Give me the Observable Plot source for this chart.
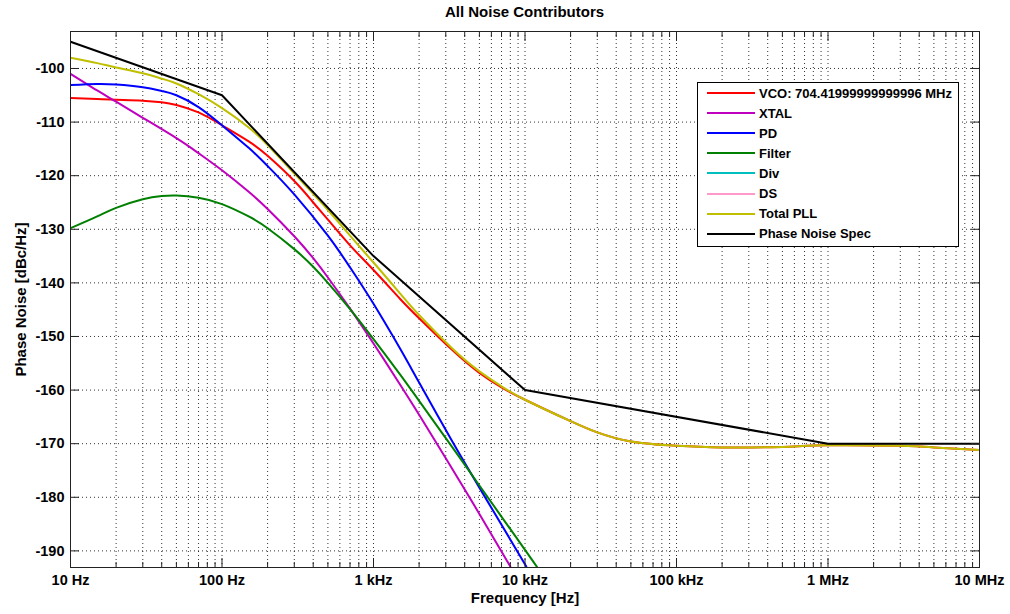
<!DOCTYPE html>
<html><head><meta charset="utf-8">
<script src="https://cdn.jsdelivr.net/npm/d3@7"></script>
<script src="https://cdn.jsdelivr.net/npm/@observablehq/plot@0.6"></script>
<style>
body{margin:0;background:#fff;font-family:"Liberation Sans",Arial,sans-serif;}
#wrap{position:relative;width:1010px;height:614px;overflow:hidden;}
#title{position:absolute;left:70px;width:909px;top:0;height:24px;line-height:24px;text-align:center;font-weight:bold;font-size:15px;color:#000;}
#chart{position:absolute;left:0;top:24px;}
#legend{position:absolute;left:697px;top:82px;width:260px;height:163px;border:1px solid #000;background:#fff;}
.row{position:absolute;left:0;height:20px;display:flex;align-items:center;font-weight:bold;font-size:13px;color:#000;white-space:nowrap;}
.row svg{margin-left:9px;margin-right:4px;}
</style></head><body>
<div id="wrap"><div id="title">All Noise Contributors</div><div id="chart"></div><div id="legend"></div></div>
<script>
// ---- tick labels ----
const xMajor = [10, 100, 1e3, 1e4, 1e5, 1e6, 1e7];
const xLabels = ["10 Hz", "100 Hz", "1 kHz", "10 kHz", "100 kHz", "1 MHz", "10 MHz"];
const yTicks = [-190, -180, -170, -160, -150, -140, -130, -120, -110, -100];

// ---- series data (frequency in Hz, phase noise in dBc/Hz) ----
const vcoF  = [10, 15, 20, 30, 40, 50, 70, 100, 150, 200, 300, 400, 500, 700, 1000, 1500, 2000, 3300, 5000, 7000, 10000, 20000, 30000, 50000, 100000, 200000, 500000, 1e6, 3e6, 5e6, 1e7];
const vcoDb = [-105.5, -105.7, -105.85, -106.0, -106.3, -106.8, -108.2, -110.6, -113.6, -116.3, -121.0, -125.0, -128.2, -133.0, -137.6, -143.0, -146.6, -152.5, -156.8, -159.5, -161.8, -165.8, -167.9, -169.6, -170.4, -170.7, -170.6, -170.3, -170.4, -170.7, -171.2];

const xtalF  = [10, 15, 20, 30, 50, 70, 100, 150, 200, 300, 400, 500, 700, 1000, 1500, 2000, 3000, 5000, 8000];
const xtalDb = [-101.0, -104.1, -106.2, -109.2, -113.0, -115.8, -119.0, -123.0, -126.2, -131.3, -135.4, -139.0, -144.8, -151.3, -159.0, -164.6, -172.7, -183.1, -192.9];

const pdF  = [10, 15, 20, 30, 40, 50, 70, 100, 150, 200, 300, 500, 700, 1000, 1500, 2000, 3300, 5000, 10200];
const pdDb = [-103.1, -102.9, -103.0, -103.5, -104.2, -105.0, -107.2, -110.6, -114.8, -118.2, -123.5, -131.2, -137.1, -143.9, -152.3, -158.6, -169.5, -178.2, -192.9];

const filterF  = [10, 15, 20, 30, 40, 50, 70, 100, 150, 200, 300, 400, 500, 700, 1000, 1500, 2000, 3300, 5000, 10000, 12200];
const filterDb = [-129.8, -127.6, -126.0, -124.4, -123.8, -123.7, -124.1, -125.3, -127.6, -129.8, -133.7, -137.0, -140.0, -144.9, -150.5, -157.1, -162.0, -170.6, -177.8, -189.8, -193.3];

const divF = [], divDb = [];
const dsF = [], dsDb = [];

const totalF  = [10, 15, 20, 30, 40, 50, 70, 100, 150, 200, 300, 500, 700, 1000, 1500, 2000, 3300, 5000, 7000, 10000, 20000, 30000, 50000, 100000, 200000, 500000, 1e6, 3e6, 5e6, 1e7];
const totalDb = [-98.0, -99.0, -99.8, -100.9, -101.9, -102.8, -104.8, -107.4, -111.0, -114.3, -119.6, -126.4, -131.2, -136.2, -142.0, -146.0, -152.2, -156.5, -159.3, -161.8, -165.8, -167.9, -169.6, -170.4, -170.7, -170.6, -170.3, -170.4, -170.7, -171.2];

const specF  = [10, 100, 1000, 10000, 1e6, 1e7];
const specDb = [-95, -105, -135, -160, -170, -170];

const seriesNames  = ["VCO: 704.41999999999996 MHz", "XTAL", "PD", "Filter", "Div", "DS", "Total PLL", "Phase Noise Spec"];
const seriesColors = ["#ff0000", "#bf00bf", "#0000ff", "#008000", "#00bfbf", "#ff99cc", "#bfbf00", "#000000"];
const seriesF  = [vcoF, xtalF, pdF, filterF, divF, dsF, totalF, specF];
const seriesDb = [vcoDb, xtalDb, pdDb, filterDb, divDb, dsDb, totalDb, specDb];

const series = seriesNames.map((name, i) => ({
  name, color: seriesColors[i],
  data: seriesF[i].map((f, j) => ({f, db: seriesDb[i][j]}))
}));

const xMinor = xMajor.slice(0, -1).flatMap(d => [2, 3, 4, 5, 6, 7, 8, 9].map(k => k * d));
const gridX = [...xMajor, ...xMinor];

const lineMarks = series.map((s, i) => Plot.line(s.data, {
  x: "f", y: "db", stroke: s.color, strokeWidth: 2,
  curve: i === 7 ? "linear" : "natural", clip: true
}));

const blank = () => "";
const plot = Plot.plot({
  width: 1010, height: 590,
  marginLeft: 70, marginRight: 31, marginTop: 7, marginBottom: 47,
  x: {type: "log", domain: [10, 1e7]},
  y: {domain: [-193.1, -93.1]},
  style: {fontFamily: "'Liberation Sans', Arial, sans-serif", fontWeight: "bold", fontSize: "14.5px", color: "#000", background: "#fff", overflow: "visible"},
  marks: [
    Plot.ruleX(gridX, {stroke: "#000", strokeDasharray: "1,3", strokeWidth: 1, strokeOpacity: 0.8}),
    Plot.ruleY(yTicks, {stroke: "#000", strokeDasharray: "1,3", strokeWidth: 1, strokeOpacity: 0.8}),
    ...lineMarks,
    Plot.frame({stroke: "#222", strokeWidth: 1}),
    // inward ticks
    Plot.axisX(xMajor, {anchor: "bottom", tickSize: -9, tickFormat: blank, label: null, stroke: "#222"}),
    Plot.axisX(xMajor, {anchor: "top", tickSize: -9, tickFormat: blank, label: null, stroke: "#222"}),
    Plot.axisX(xMinor, {anchor: "bottom", tickSize: -5, tickFormat: blank, label: null, stroke: "#222"}),
    Plot.axisX(xMinor, {anchor: "top", tickSize: -5, tickFormat: blank, label: null, stroke: "#222"}),
    Plot.axisY(yTicks, {anchor: "left", tickSize: -9, tickFormat: blank, label: null, stroke: "#222"}),
    Plot.axisY(yTicks, {anchor: "right", tickSize: -9, tickFormat: blank, label: null, stroke: "#222"}),
    // tick labels
    Plot.axisX(xMajor, {anchor: "bottom", tickSize: 0, tickPadding: 7, tickFormat: d => xLabels[xMajor.indexOf(d)], label: null, fontSize: 14.5, fontWeight: "bold"}),
    Plot.axisY(yTicks, {anchor: "left", tickSize: 0, tickPadding: 6, tickFormat: d => String(d), label: null, fontSize: 14.5, fontWeight: "bold"}),
    // axis titles
    Plot.text(["Frequency [Hz]"], {text: d => d, frameAnchor: "bottom", dy: 35, fontSize: 15, fontWeight: "bold"}),
    Plot.text(["Phase Noise [dBc/Hz]"], {text: d => d, frameAnchor: "left", dx: -49, rotate: -90, textAnchor: "middle", fontSize: 15, fontWeight: "bold"})
  ]
});
document.getElementById("chart").appendChild(plot);

// legend
const legend = document.getElementById("legend");
series.forEach((s, i) => {
  const row = document.createElement("div");
  row.className = "row";
  row.style.top = (i * 20.1) + "px";
  row.innerHTML = `<svg width="48" height="4"><line x1="0" y1="2" x2="48" y2="2" stroke="${s.color}" stroke-width="2"/></svg><span>${s.name}</span>`;
  legend.appendChild(row);
});
</script>
</body></html>
